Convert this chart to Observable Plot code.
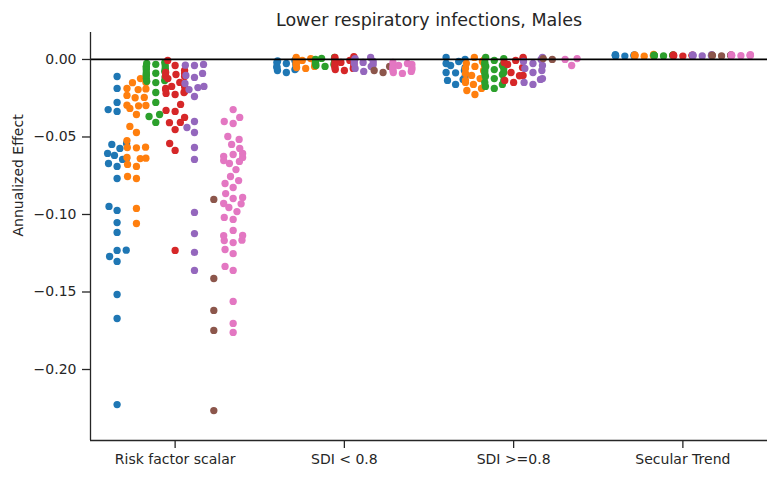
<!DOCTYPE html>
<html>
<head>
<meta charset="utf-8">
<script src="https://cdn.jsdelivr.net/npm/d3@7"></script>
<script src="https://cdn.jsdelivr.net/npm/@observablehq/plot@0.6"></script>
<style>
  html, body { margin: 0; padding: 0; background: #ffffff; }
  svg { display: block; }
</style>
</head>
<body>
<div id="chart"></div>
<script>
// ---------- text ----------
const title = "Lower respiratory infections, Males";
const yLabel = "Annualized Effect";
const categories = ["Risk factor scalar", "SDI < 0.8", "SDI >=0.8", "Secular Trend"];
const series = ["s1", "s2", "s3", "s4", "s5", "s6", "s7"];
const colors = ["#1f77b4", "#ff7f0e", "#2ca02c", "#d62728", "#9467bd", "#8c564b", "#e377c2"];
const yTicks = [0, -0.05, -0.10, -0.15, -0.20];
const yDomain = [-0.2458, 0.0174];

// ---------- values (one list per series, in series order) ----------
const riskFactorScalar = [
  [-0.0110, -0.0187, -0.0277, -0.0323, -0.0335, -0.0542, -0.0548, -0.0574, -0.0606, -0.0619, -0.0639, -0.0645, -0.0671, -0.0690, -0.0768, -0.0948, -0.0974, -0.1052, -0.1116, -0.1232, -0.1230, -0.1271, -0.1303, -0.1516, -0.1671, -0.2226],
  [-0.0123, -0.0148, -0.0150, -0.0187, -0.0190, -0.0194, -0.0232, -0.0245, -0.0247, -0.0297, -0.0295, -0.0299, -0.0316, -0.0355, -0.0432, -0.0471, -0.0523, -0.0568, -0.0566, -0.0570, -0.0632, -0.0639, -0.0637, -0.0677, -0.0690, -0.0755, -0.0768, -0.0961, -0.1058],
  [-0.0020, -0.0025, -0.0031, -0.0040, -0.0044, -0.0053, -0.0057, -0.0066, -0.0070, -0.0078, -0.0085, -0.0089, -0.0098, -0.0102, -0.0111, -0.0117, -0.0121, -0.0136, -0.0141, -0.0149, -0.0213, -0.0277, -0.0355, -0.0368, -0.0406],
  [-0.0006, -0.0039, -0.0071, -0.0084, -0.0090, -0.0097, -0.0110, -0.0108, -0.0123, -0.0148, -0.0174, -0.0176, -0.0187, -0.0194, -0.0206, -0.0213, -0.0219, -0.0226, -0.0290, -0.0329, -0.0335, -0.0374, -0.0406, -0.0408, -0.0452, -0.0542, -0.0587, -0.1232],
  [-0.0032, -0.0039, -0.0037, -0.0090, -0.0103, -0.0116, -0.0155, -0.0174, -0.0181, -0.0194, -0.0239, -0.0400, -0.0439, -0.0471, -0.0568, -0.0645, -0.0987, -0.1123, -0.1245, -0.1361],
  [-0.0903, -0.1413, -0.1619, -0.1748, -0.2265],
  [-0.0323, -0.0374, -0.0400, -0.0413, -0.0497, -0.0516, -0.0548, -0.0574, -0.0606, -0.0613, -0.0626, -0.0632, -0.0652, -0.0658, -0.0671, -0.0710, -0.0755, -0.0781, -0.0800, -0.0826, -0.0865, -0.0890, -0.0897, -0.0929, -0.0931, -0.0955, -0.0981, -0.1019, -0.1032, -0.1103, -0.1135, -0.1137, -0.1168, -0.1166, -0.1181, -0.1226, -0.1252, -0.1335, -0.1361, -0.1561, -0.1703, -0.1761]
];
const sdiBelow08 = [
  [0.0000, -0.0006, -0.0010, -0.0019, -0.0026, -0.0032, -0.0045, -0.0052, -0.0058, -0.0065, -0.0071, -0.0084],
  [0.0013, 0.0006, 0.0000, -0.0006, -0.0013, -0.0019, -0.0026, -0.0032, -0.0045, -0.0052, -0.0058],
  [0.0013, 0.0007, 0.0000, -0.0006, -0.0012, -0.0019, -0.0026, -0.0032, -0.0039, -0.0045],
  [0.0019, 0.0013, 0.0006, 0.0000, -0.0006, -0.0013, -0.0019, -0.0026, -0.0032, -0.0039, -0.0045, -0.0052, -0.0058, -0.0065, -0.0071],
  [0.0013, 0.0006, -0.0006, -0.0013, -0.0019, -0.0026, -0.0032, -0.0045, -0.0058, -0.0077],
  [-0.0045, -0.0071, -0.0084],
  [-0.0019, -0.0026, -0.0032, -0.0039, -0.0045, -0.0052, -0.0058, -0.0065, -0.0071, -0.0077, -0.0084, -0.0090]
];
const sdiAbove08 = [
  [0.0013, 0.0000, -0.0013, -0.0026, -0.0039, -0.0052, -0.0071, -0.0084, -0.0086, -0.0110, -0.0129, -0.0135, -0.0161],
  [0.0013, 0.0000, -0.0013, -0.0026, -0.0039, -0.0045, -0.0058, -0.0071, -0.0077, -0.0090, -0.0103, -0.0116, -0.0123, -0.0135, -0.0148, -0.0161, -0.0174, -0.0187, -0.0200, -0.0226],
  [0.0013, 0.0006, -0.0006, -0.0019, -0.0026, -0.0032, -0.0039, -0.0045, -0.0058, -0.0065, -0.0071, -0.0084, -0.0090, -0.0097, -0.0110, -0.0123, -0.0135, -0.0148, -0.0161, -0.0174, -0.0187],
  [0.0013, 0.0006, -0.0006, -0.0019, -0.0032, -0.0052, -0.0084, -0.0103, -0.0105, -0.0135, -0.0148],
  [0.0013, 0.0000, -0.0013, -0.0026, -0.0039, -0.0058, -0.0071, -0.0084, -0.0123, -0.0129, -0.0148, -0.0161],
  [0.0006, 0.0000],
  [0.0006, 0.0000, -0.0039]
];
const secularTrend = [
  [0.0027, 0.0024, 0.0029, 0.0022, 0.0026, 0.0025, 0.0031, 0.0023],
  [0.0028, 0.0025, 0.0021, 0.0030, 0.0026, 0.0024, 0.0027, 0.0033],
  [0.0026, 0.0023, 0.0028, 0.0025, 0.0030, 0.0024, 0.0027],
  [0.0025, 0.0027, 0.0022, 0.0029, 0.0024, 0.0026, 0.0028],
  [0.0027, 0.0023, 0.0029, 0.0026, 0.0025, 0.0031, 0.0024],
  [0.0026, 0.0028, 0.0023, 0.0027, 0.0025, 0.0030],
  [0.0027, 0.0025, 0.0029, 0.0024, 0.0026, 0.0028, 0.0031]
];
const groups = [riskFactorScalar, sdiBelow08, sdiAbove08, secularTrend];

// ---------- layout ----------
const W = 771, H = 477;
const mL = 90, mR = 4, mT = 32, mB = 37;
const xDomain = [-0.5, categories.length - 0.5];
const yS = Plot.scale({y: {domain: yDomain, range: [H - mB, mT]}});
const pxPerUnit = (W - mR - mL) / (xDomain[1] - xDomain[0]);
const hueStep = 0.8 / series.length;       // dodge spacing (category units)
const halfGutter = (0.8 / series.length * 0.98) / 2 * pxPerUnit; // px
const D = 8.7;                               // swarm spacing diameter, px

// seaborn-style beeswarm: points sorted from bottom, placed nearest to centre
function beeswarm(vals) {
  const pts = vals.map(v => ({v, py: yS.apply(v)})).sort((a, b) => b.py - a.py);
  const placed = [];
  for (const p of pts) {
    const nb = placed.filter(q => Math.abs(q.py - p.py) < D);
    const cands = [0];
    let leftFirst = true;
    for (const q of nb) {
      const dy = p.py - q.py;
      const dx = Math.sqrt(Math.max(D * D - dy * dy, 0)) * 1.05;
      const l = q.ox - dx, r = q.ox + dx;
      if (leftFirst) cands.push(l, r); else cands.push(r, l);
      leftFirst = !leftFirst;
    }
    const order = cands.map((c, i) => ({c, i}))
      .sort((a, b) => (Math.abs(a.c) - Math.abs(b.c)) || (a.i - b.i));
    let ox = 0;
    for (const {c} of order) {
      if (nb.every(q => (q.ox - c) ** 2 + (q.py - p.py) ** 2 >= D * D - 1e-6)) { ox = c; break; }
    }
    p.ox = ox;
    placed.push(p);
  }
  for (const p of placed) p.ox = Math.max(-halfGutter, Math.min(halfGutter, p.ox));
  return placed;
}

const rows = [];
groups.forEach((grp, ci) => {
  grp.forEach((vals, si) => {
    const center = ci + (si - (series.length - 1) / 2) * hueStep;
    for (const p of beeswarm(vals)) {
      rows.push({category: categories[ci], series: series[si], value: p.v, x: center + p.ox / pxPerUnit});
    }
  });
});

const ink = "#262626";
const chart = Plot.plot({
  width: W,
  height: H,
  marginLeft: mL,
  marginRight: mR,
  marginTop: mT,
  marginBottom: mB,
  style: {fontFamily: "'DejaVu Sans', sans-serif", fontSize: "14px", color: ink, background: "#ffffff"},
  x: {domain: xDomain, axis: null},
  y: {domain: yDomain, axis: null},
  color: {domain: series, range: colors},
  marks: [
    Plot.dot(rows, {x: "x", y: "value", fill: "series", r: 3.65}),
    Plot.ruleY([0], {stroke: "#000000", strokeWidth: 1.8}),
    Plot.ruleX([xDomain[0]], {stroke: ink, strokeWidth: 1.3}),
    Plot.ruleY([yDomain[0]], {stroke: ink, strokeWidth: 1.3}),
    Plot.axisY(yTicks, {tickFormat: d3.format(".2f"), tickSize: 8, tickPadding: 6, label: null, fontSize: 14, strokeWidth: 1.3}),
    Plot.axisX(categories.map((c, i) => i), {tickFormat: i => categories[i], tickSize: 8, tickPadding: 6, label: null, fontSize: 14, strokeWidth: 1.3}),
    Plot.text([yLabel], {frameAnchor: "left", rotate: -90, dx: -72, fontSize: 14, fill: ink}),
    Plot.text([title], {frameAnchor: "top", dy: -19, fontSize: 17.5, fill: ink})
  ]
});
document.getElementById("chart").appendChild(chart);
</script>
</body>
</html>
